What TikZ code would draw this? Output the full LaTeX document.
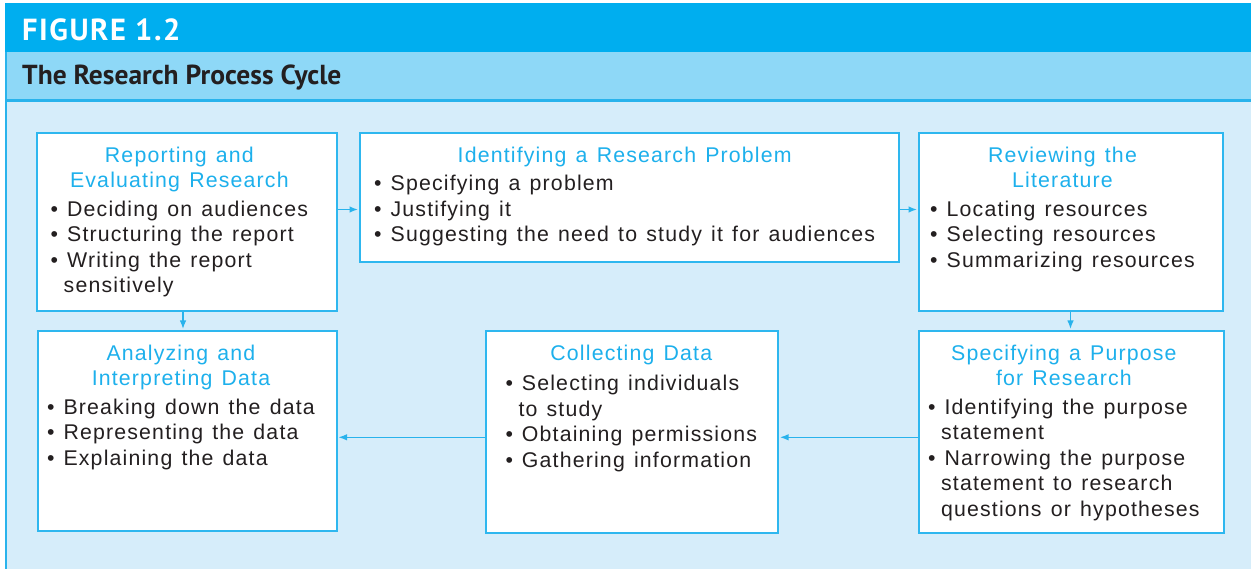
\documentclass[tikz,border=0pt]{standalone}
\usepackage{fontspec}
\usetikzlibrary{arrows.meta}
\newfontfamily\bodyf{Liberation Sans}[LetterSpace=5.5,WordSpace=1.3]
\newfontfamily\headf{PT Sans}
\definecolor{hdark}{HTML}{00AEEF}
\definecolor{bandc}{HTML}{8ED8F7}
\definecolor{bodyc}{HTML}{D6EDFA}
\definecolor{linec}{HTML}{29B3EC}
\definecolor{boxc}{HTML}{2EB7EF}
\definecolor{titc}{HTML}{1DB0EC}
\definecolor{textc}{HTML}{231F20}
\newcommand{\ttl}[1]{\multicolumn{1}{@{}c@{}}{\color{titc}#1}}
\newcommand{\bul}{\textbullet\hspace{9pt}}
\newcommand{\cnt}{\hspace*{13pt}}
\tikzset{
  boxnode/.style={draw=boxc, line width=2pt, fill=white, inner sep=0pt, anchor=north west},
  txt/.style={anchor=north west, inner sep=0pt, text=textc,
    font=\bodyf\fontsize{21.3pt}{25.5pt}\selectfont},
  arr/.style={draw=linec, line width=1.3pt, shorten >=1pt,
    -{Latex[length=8.5pt,width=6.5pt]}},
}
\begin{document}
\begin{tikzpicture}[x=1pt,y=1pt]
\useasboundingbox (0,0) rectangle (1251,-569);
% frame
\fill[bodyc] (5,-101) rectangle (1251,-569);
\fill[hdark] (5,-3.3) rectangle (1251,-51.7);
\fill[bandc] (5,-51.7) rectangle (1251,-99.5);
\draw[linec, line width=2.4pt] (5,-100.7) -- (1251,-100.7);
\draw[linec, line width=2.2pt] (6.1,-51.7) -- (6.1,-569);
\node[anchor=base west, inner sep=0pt, text=white,
  font=\headf\bfseries\fontsize{30.5pt}{32pt}\selectfont\addfontfeature{LetterSpace=5}]
  (fig) at (22,-40.7) {FIGURE 1.2};
\node[anchor=base west, inner sep=0pt, text=textc,
  font=\headf\bfseries\fontsize{27.5pt}{29pt}\selectfont]
  (head) at (22,-85) {The Research Process Cycle};
% boxes
\node[boxnode, minimum width=299.5pt, minimum height=178pt] (b1) at (36,-132) {};
\node[boxnode, minimum width=538.5pt, minimum height=129.5pt] (b2) at (359,-132) {};
\node[boxnode, minimum width=304pt, minimum height=178pt] (b3) at (918,-132) {};
\node[boxnode, minimum width=299pt, minimum height=199.5pt] (b4) at (36.5,-330) {};
\node[boxnode, minimum width=292.5pt, minimum height=201.5pt] (b5) at (484.5,-330) {};
\node[boxnode, minimum width=304.5pt, minimum height=201.5pt] (b6) at (918,-330) {};
% texts
\node[txt] (t1) at (50.5,-144.2) {\begin{tabular}{@{}l@{}}
\ttl{Reporting and}\\ \ttl{Evaluating Research}\\[3pt]
\bul Deciding on audiences\\ \bul Structuring the report\\
\bul Writing the report\\ \cnt sensitively\end{tabular}};
\node[txt] (t2) at (374,-144.2) {\begin{tabular}{@{}l@{}}
\ttl{Identifying a Research Problem}\\[3pt]
\bul Specifying a problem\\ \bul Justifying it\\
\bul Suggesting the need to study it for audiences\end{tabular}};
\node[txt] (t3) at (930,-144.2) {\begin{tabular}{@{}l@{}}
\ttl{Reviewing the}\\ \ttl{Literature}\\[3pt]
\bul Locating resources\\ \bul Selecting resources\\
\bul Summarizing resources\end{tabular}};
\node[txt] (t4) at (46.9,-342.2) {\begin{tabular}{@{}l@{}}
\ttl{Analyzing and}\\ \ttl{Interpreting Data}\\[3pt]
\bul Breaking down the data\\ \bul Representing the data\\
\bul Explaining the data\end{tabular}};
\node[txt] (t5) at (505.3,-342.2) {\begin{tabular}{@{}l@{}}
\ttl{Collecting Data}\\[5pt]
\bul Selecting individuals\\ \cnt to study\\
\bul Obtaining permissions\\ \bul Gathering information\end{tabular}};
\node[txt] (t6) at (927.9,-342.2) {\begin{tabular}{@{}l@{}}
\ttl{Specifying a Purpose}\\ \ttl{for Research}\\[3pt]
\bul Identifying the purpose\\ \cnt statement\\
\bul Narrowing the purpose\\ \cnt statement to research\\
\cnt questions or hypotheses\end{tabular}};
% connectors
\coordinate (r1) at (0,-209.5);
\coordinate (r2) at (0,-437.3);
\coordinate (c1) at (183,0);
\coordinate (c2) at (1070.5,0);
\draw[arr] (b1.east |- r1) -- (b2.west |- r1);
\draw[arr] (b2.east |- r1) -- (b3.west |- r1);
\draw[arr] (b1.south -| c1) -- (b4.north -| c1);
\draw[arr] (b3.south -| c2) -- (b6.north -| c2);
\draw[arr] (b6.west |- r2) -- (b5.east |- r2);
\draw[arr] (b5.west |- r2) -- (b4.east |- r2);
\end{tikzpicture}
\end{document}
